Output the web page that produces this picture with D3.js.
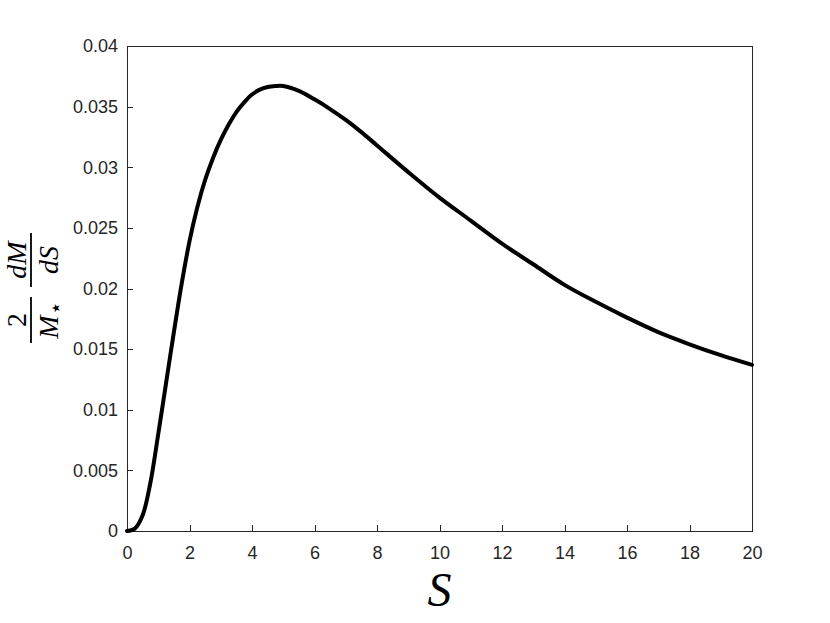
<!DOCTYPE html>
<html>
<head>
<meta charset="utf-8">
<script src="https://cdn.jsdelivr.net/npm/d3@7"></script>
<style>
  html, body { margin: 0; padding: 0; background: #fff; }
  svg { display: block; }
</style>
</head>
<body>
<svg id="chart" width="830" height="623"></svg>
<script>
// Data
const S_values = [0, 0.25, 0.5, 0.75, 1, 1.25, 1.5, 1.75, 2, 2.25, 2.5, 2.75, 3, 3.25, 3.5, 3.75, 4, 4.25, 4.5, 4.75, 5, 5.5, 6, 6.5, 7, 7.5, 8, 9, 10, 11, 12, 13, 14, 15, 16, 17, 18, 19, 20];
const dMdS_values = [0, 0.0002, 0.0013, 0.0040, 0.0080, 0.0122, 0.0164, 0.0204, 0.0239, 0.0267, 0.02895, 0.03075, 0.03225, 0.0335, 0.03455, 0.03535, 0.0360, 0.0364, 0.03662, 0.0367, 0.0367, 0.0363, 0.0356, 0.0348, 0.0339, 0.0329, 0.0318, 0.0296, 0.0275, 0.0256, 0.0237, 0.0220, 0.0203, 0.0189, 0.0176, 0.0164, 0.0154, 0.0145, 0.0137];
const xTicks = [0, 2, 4, 6, 8, 10, 12, 14, 16, 18, 20];
const yTicks = [0, 0.005, 0.01, 0.015, 0.02, 0.025, 0.03, 0.035, 0.04];
const yTickLabels = ["0", "0.005", "0.01", "0.015", "0.02", "0.025", "0.03", "0.035", "0.04"];

const svg = d3.select("#chart");
const margin = { left: 127, top: 46, right: 830 - 752, bottom: 623 - 531 };
const W = 830 - margin.left - margin.right;
const H = 623 - margin.top - margin.bottom;

const x = d3.scaleLinear().domain([0, 20]).range([0, W]);
const y = d3.scaleLinear().domain([0, 0.04]).range([H, 0]);

const g = svg.append("g").attr("transform", `translate(${margin.left},${margin.top})`);

const axisColor = "#262626";

// box
g.append("rect").attr("x", 0).attr("y", 0).attr("width", W).attr("height", H)
  .attr("fill", "none").attr("stroke", axisColor).attr("stroke-width", 1).attr("shape-rendering", "crispEdges");

// x axis
const xAxis = g.append("g").attr("transform", `translate(0,${H})`)
  .call(d3.axisBottom(x).tickValues(xTicks).tickSize(-6).tickPadding(20).tickFormat(d3.format("d")));
// y axis
const yAxis = g.append("g")
  .call(d3.axisLeft(y).tickValues(yTicks).tickSize(-6).tickPadding(15).tickFormat((d, i) => yTickLabels[i]));

[xAxis, yAxis].forEach(a => {
  a.select(".domain").attr("stroke", axisColor).attr("shape-rendering", "crispEdges");
  a.selectAll(".tick line").attr("stroke", axisColor).attr("shape-rendering", "crispEdges");
  a.selectAll(".tick text").attr("fill", axisColor)
    .style("font-family", "'Liberation Sans', Arial, Helvetica, sans-serif").style("font-size", "18px");
});
xAxis.selectAll(".tick text").attr("dy", "0.71em").attr("y", 15);
yAxis.selectAll(".tick text").attr("x", -9);

// curve
const data = S_values.map((s, i) => ({ s, v: dMdS_values[i] }));
const line = d3.line().x(d => x(d.s)).y(d => y(d.v)).curve(d3.curveCatmullRom.alpha(0.5));
g.append("path").datum(data).attr("d", line)
  .attr("fill", "none").attr("stroke", "#000").attr("stroke-width", 4)
  .attr("stroke-linejoin", "round").attr("stroke-linecap", "round");

// x label
svg.append("text").attr("x", margin.left + W / 2).attr("y", 606)
  .attr("text-anchor", "middle")
  .style("font-family", "'Liberation Serif', 'DejaVu Serif', serif").style("font-style", "italic")
  .style("font-size", "48px").text("S");

// y label: 2/M⋆ · dM/dS rotated
const yl = svg.append("g").attr("transform", "rotate(-90)");
const serif = "'Liberation Serif', 'DejaVu Serif', serif";
const fs = 28;
// fraction 1: 2 / M⋆
const f1c = -320;
yl.append("text").attr("x", f1c).attr("y", 26).attr("text-anchor", "middle")
  .style("font-family", serif).style("font-size", fs + "px").text("2");
yl.append("line").attr("x1", f1c - 23).attr("x2", f1c + 23).attr("y1", 31).attr("y2", 31)
  .attr("stroke", "#000").attr("stroke-width", 1.8);
const t1 = yl.append("text").attr("x", f1c).attr("y", 58).attr("text-anchor", "middle")
  .style("font-family", serif).style("font-size", fs + "px");
t1.append("tspan").style("font-style", "italic").text("M");
t1.append("tspan").style("font-size", "22px").attr("dy", 5).text("⋆");
// fraction 2: dM / dS
const f2c = -260;
yl.append("text").attr("x", f2c).attr("y", 26).attr("text-anchor", "middle")
  .style("font-family", serif).style("font-style", "italic").style("font-size", fs + "px").text("dM");
yl.append("line").attr("x1", f2c - 27).attr("x2", f2c + 27).attr("y1", 31).attr("y2", 31)
  .attr("stroke", "#000").attr("stroke-width", 1.8);
yl.append("text").attr("x", f2c).attr("y", 58).attr("text-anchor", "middle")
  .style("font-family", serif).style("font-style", "italic").style("font-size", fs + "px").text("dS");
</script>
</body>
</html>
